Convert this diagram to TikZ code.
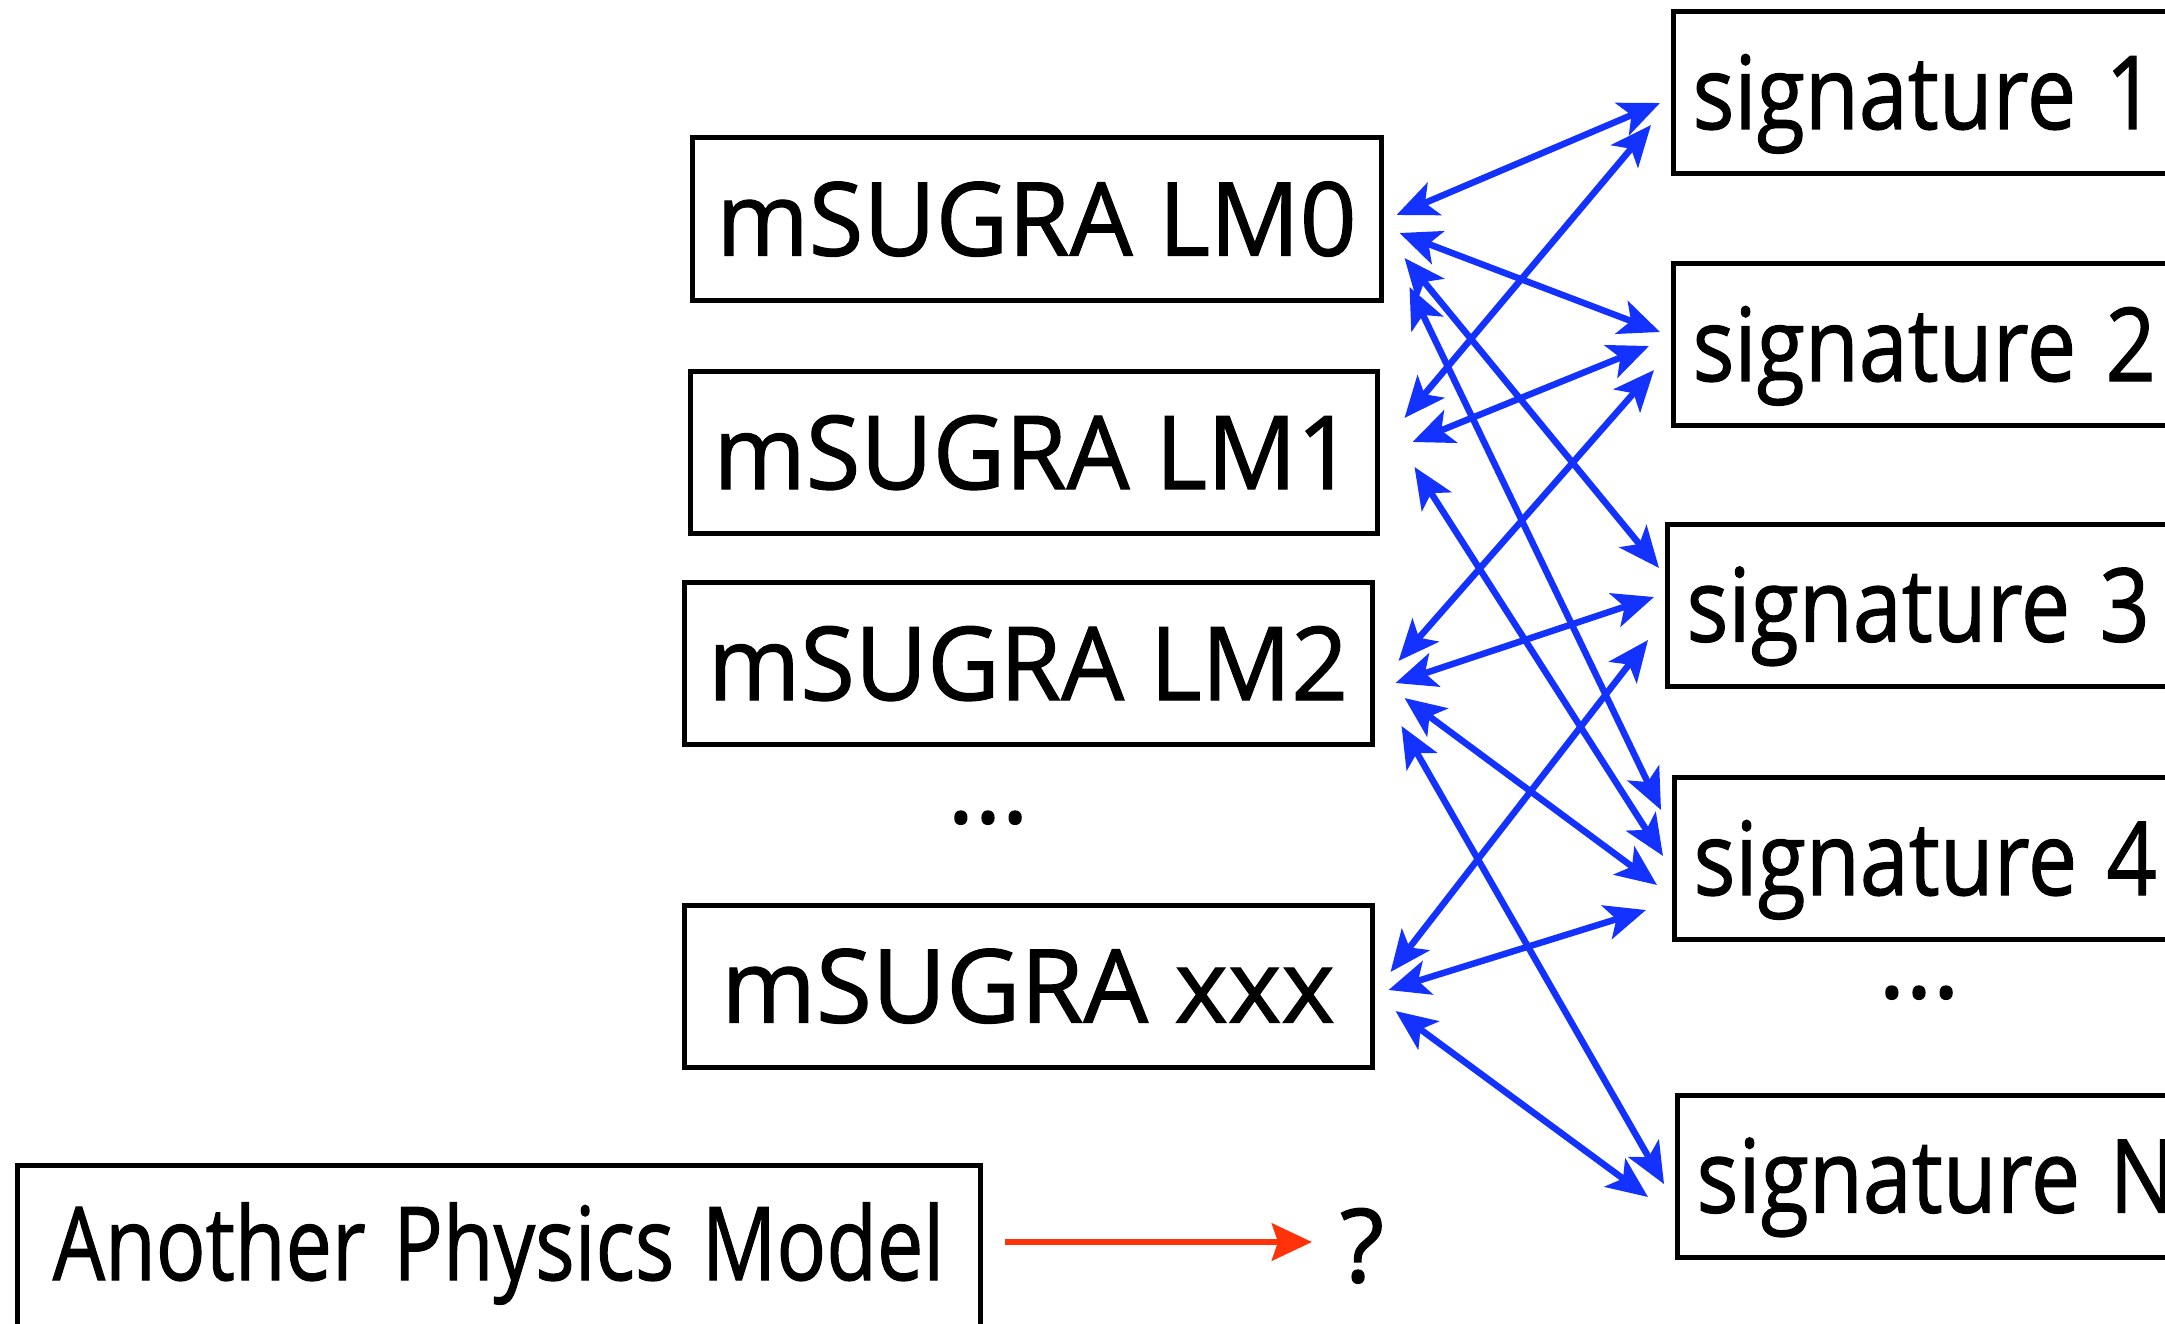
\documentclass[tikz,border=0pt]{standalone}
\usepackage{fontspec}
\setmainfont{Open Sans}
\newfontfamily\heavyfam{Open Sans}[FakeBold=1.2]
\usetikzlibrary{arrows.meta,calc}
\definecolor{arrowblue}{RGB}{20,50,255}
\definecolor{arrowred}{RGB}{255,50,10}
\newcommand\diafont{\heavyfam\fontsize{102}{110}\selectfont}
\newcommand\lmtext[1]{\scalebox{0.975}[1]{#1}}
\newcommand\sigtext[1]{\scalebox{0.862}[1]{#1}}
\begin{document}
\begin{tikzpicture}[x=1pt,y=-1pt,
  box/.style={draw=black,line width=5pt,inner sep=0pt,minimum height=162pt,
    text height=73pt,text depth=0pt,font=\diafont},
  sigbox/.style={box,anchor=west,text width=700pt,align=left,inner xsep=19pt},
  link/.style={draw=arrowblue,line width=6.5pt,
    {Stealth[length=41pt,width=35pt,inset=10pt]}-{Stealth[length=41pt,width=35pt,inset=10pt]}},
  plain/.style={anchor=base,font=\diafont,inner sep=0pt}
]
\useasboundingbox (0,0) rectangle (2165,1324);

% model boxes
\node[box,minimum width=689pt] (lm0) at (1036.5,219) {\lmtext{mSUGRA LM0}};
\node[box,minimum width=687pt] (lm1) at (1033.5,452.5) {\lmtext{mSUGRA LM1}};
\node[box,minimum width=688pt] (lm2) at (1028,663.5) {\lmtext{mSUGRA LM2}};
\node[box,minimum width=688pt] (xxx) at (1028,986) {mSUGRA xxx};
\node[plain] (dotsa) at (988,823) {...};

% signature boxes
\node[sigbox] (s1) at (1671,92.5) {\sigtext{signature 1}};
\node[sigbox] (s2) at (1671,344.5) {\sigtext{signature 2}};
\node[sigbox] (s3) at (1665,605) {\sigtext{signature 3}};
\node[sigbox] (s4) at (1672,858.5) {\sigtext{signature 4}};
\node[plain] (dotsb) at (1919,998) {...};
\node[sigbox] (sN) at (1675,1176) {\sigtext{signature N}};

% another model
\node[draw=black,line width=5pt,inner sep=0pt,text width=963pt,align=center,
  text height=115pt,text depth=55pt,anchor=base,font=\diafont] (other) at (498.5,1280)
  {\scalebox{0.81}[1]{Another Physics Model}};
\node[plain] (q) at (1362,1282) {?};

% links
\draw[link] ($(lm0.east)+(13,-4)$) -- ($(s1.west)+(-11,10.5)$);
\draw[link] ($(lm1.east)+(25,-34.5)$) -- ($(s1.west)+(-20,32.5)$);
\draw[link] ($(lm0.east)+(16,14)$) -- ($(s2.west)+(-11,-12.5)$);
\draw[link] ($(lm1.east)+(33,-10.5)$) -- ($(s2.west)+(-22,1.5)$);
\draw[link] ($(lm2.east)+(24,-2.5)$) -- ($(s2.west)+(-17,25.5)$);
\draw[link] ($(lm0.east)+(21,39)$) -- ($(s3.west)+(-6,-37)$);
\draw[link] ($(lm2.east)+(21,19.5)$) -- ($(s3.west)+(-11,-8)$);
\draw[link] ($(xxx.east)+(16,-14)$) -- ($(s3.west)+(-17,35)$);
\draw[link] ($(lm0.east)+(26,68)$) -- ($(s4.west)+(-11,-48.5)$);
\draw[link] ($(lm1.east)+(35,14.5)$) -- ($(s4.west)+(-9,-2.5)$);
\draw[link] ($(lm2.east)+(30,34.5)$) -- ($(s4.west)+(-15,26.5)$);
\draw[link] ($(xxx.east)+(14,4)$) -- ($(s4.west)+(-26,51.5)$);
\draw[link] ($(lm2.east)+(27,62.5)$) -- ($(sN.west)+(-11,8)$);
\draw[link] ($(xxx.east)+(21,25)$) -- ($(sN.west)+(-27,21)$);

\draw[draw=arrowred,line width=6.5pt,-{Stealth[length=40pt,width=37pt,inset=6pt]}]
  ($(other.east)+(22,-8)$) -- ($(q.base)+(-50,-40)$);
\end{tikzpicture}
\end{document}
